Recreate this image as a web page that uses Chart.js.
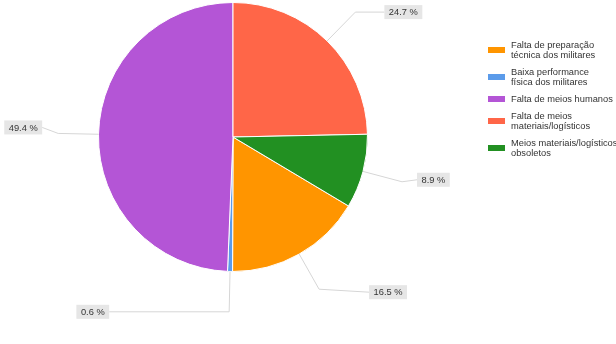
<!DOCTYPE html>
<html>
<head>
<meta charset="utf-8">
<script src="https://cdn.jsdelivr.net/npm/chart.js@4"></script>
<style>
  body { margin: 0; background: #fff; }
  #wrap { width: 616px; height: 344px; position: relative; }
</style>
</head>
<body>
<div id="wrap"><canvas id="myChart"></canvas></div>
<script>
// categories (legend lines as they wrap in the original)
var labels = [
  ["Falta de preparação", "técnica dos militares"],
  ["Baixa performance", "física dos militares"],
  ["Falta de meios humanos"],
  ["Falta de meios", "materiais/logísticos"],
  ["Meios materiais/logísticos", "obsoletos"]
];
var values = [16.5, 0.6, 49.4, 24.7, 8.9];
var colorHex = ['#FF9500', '#5B9BEA', '#B455D6', '#FF6648', '#229022'];

// horizontal length of each callout after the elbow, and label shift
var leaderLen = [50, 120, 16, 29, 15];
var labelDy = [3, 0, -6, 0, -2];

// the 4th slice starts at 12 o'clock
var total = values.reduce(function (a, b) { return a + b; }, 0);
var before = values[0] + values[1] + values[2];
var startRot = -before / total * 360;

var FONT = "9.3px 'Liberation Sans', Arial, sans-serif";

var calloutPlugin = {
  id: 'callouts',
  afterDatasetsDraw: function (chart) {
    var ctx = chart.ctx;
    var meta = chart.getDatasetMeta(0);
    ctx.save();
    ctx.font = FONT;
    meta.data.forEach(function (arc, i) {
      var p = arc.getProps(['x', 'y', 'startAngle', 'endAngle', 'outerRadius'], true);
      var mid = (p.startAngle + p.endAngle) / 2;
      var c = Math.cos(mid), s = Math.sin(mid);
      var ex = p.x + p.outerRadius * c, ey = p.y + p.outerRadius * s;
      var bx = p.x + p.outerRadius * 1.3 * c, by = p.y + p.outerRadius * 1.3 * s;
      var dir = c >= 0 ? 1 : -1;
      var hx = bx + dir * leaderLen[i];
      var ly = by + labelDy[i];

      ctx.strokeStyle = '#d6d6d6';
      ctx.lineWidth = 1;
      ctx.beginPath();
      ctx.moveTo(ex, ey);
      ctx.lineTo(bx, by);
      ctx.lineTo(hx, ly);
      ctx.stroke();

      var txt = values[i].toFixed(1) + ' %';
      var w = ctx.measureText(txt).width + 9;
      var h = 14;
      var left = dir > 0 ? hx : hx - w;
      ctx.fillStyle = '#e6e6e6';
      ctx.fillRect(left, ly - h / 2, w, h);
      ctx.fillStyle = '#333';
      ctx.textBaseline = 'middle';
      ctx.textAlign = 'left';
      ctx.fillText(txt, left + 4.5, ly + 0.5);
    });
    ctx.restore();
  }
};

var legendPlugin = {
  id: 'sideLegend',
  afterDraw: function (chart) {
    var ctx = chart.ctx;
    var lineH = 10, gap = 7;
    var y = 40;
    ctx.save();
    ctx.font = FONT;
    ctx.textBaseline = 'middle';
    ctx.textAlign = 'left';
    labels.forEach(function (lines, i) {
      var blockH = lines.length * lineH;
      ctx.fillStyle = colorHex[i];
      ctx.fillRect(488, y + blockH / 2 - 3, 17, 6);
      ctx.fillStyle = '#333';
      lines.forEach(function (ln, j) {
        ctx.fillText(ln, 511, y + lineH * j + lineH / 2);
      });
      y += blockH + gap;
    });
    ctx.restore();
  }
};

var ctx = document.getElementById('myChart').getContext('2d');
var myChart = new Chart(ctx, {
  type: 'pie',
  data: {
    labels: labels.map(function (l) { return l.join(' '); }),
    datasets: [{
      data: values,
      backgroundColor: colorHex,
      borderColor: '#ffffff',
      borderWidth: 1,
      hoverOffset: 0
    }]
  },
  options: {
    responsive: true,
    maintainAspectRatio: false,
    animation: false,
    rotation: startRot,
    layout: {
      padding: { left: 98, right: 248, top: 2, bottom: 72 }
    },
    plugins: {
      legend: { display: false },
      tooltip: { enabled: false }
    }
  },
  plugins: [calloutPlugin, legendPlugin]
});
</script>
</body>
</html>
